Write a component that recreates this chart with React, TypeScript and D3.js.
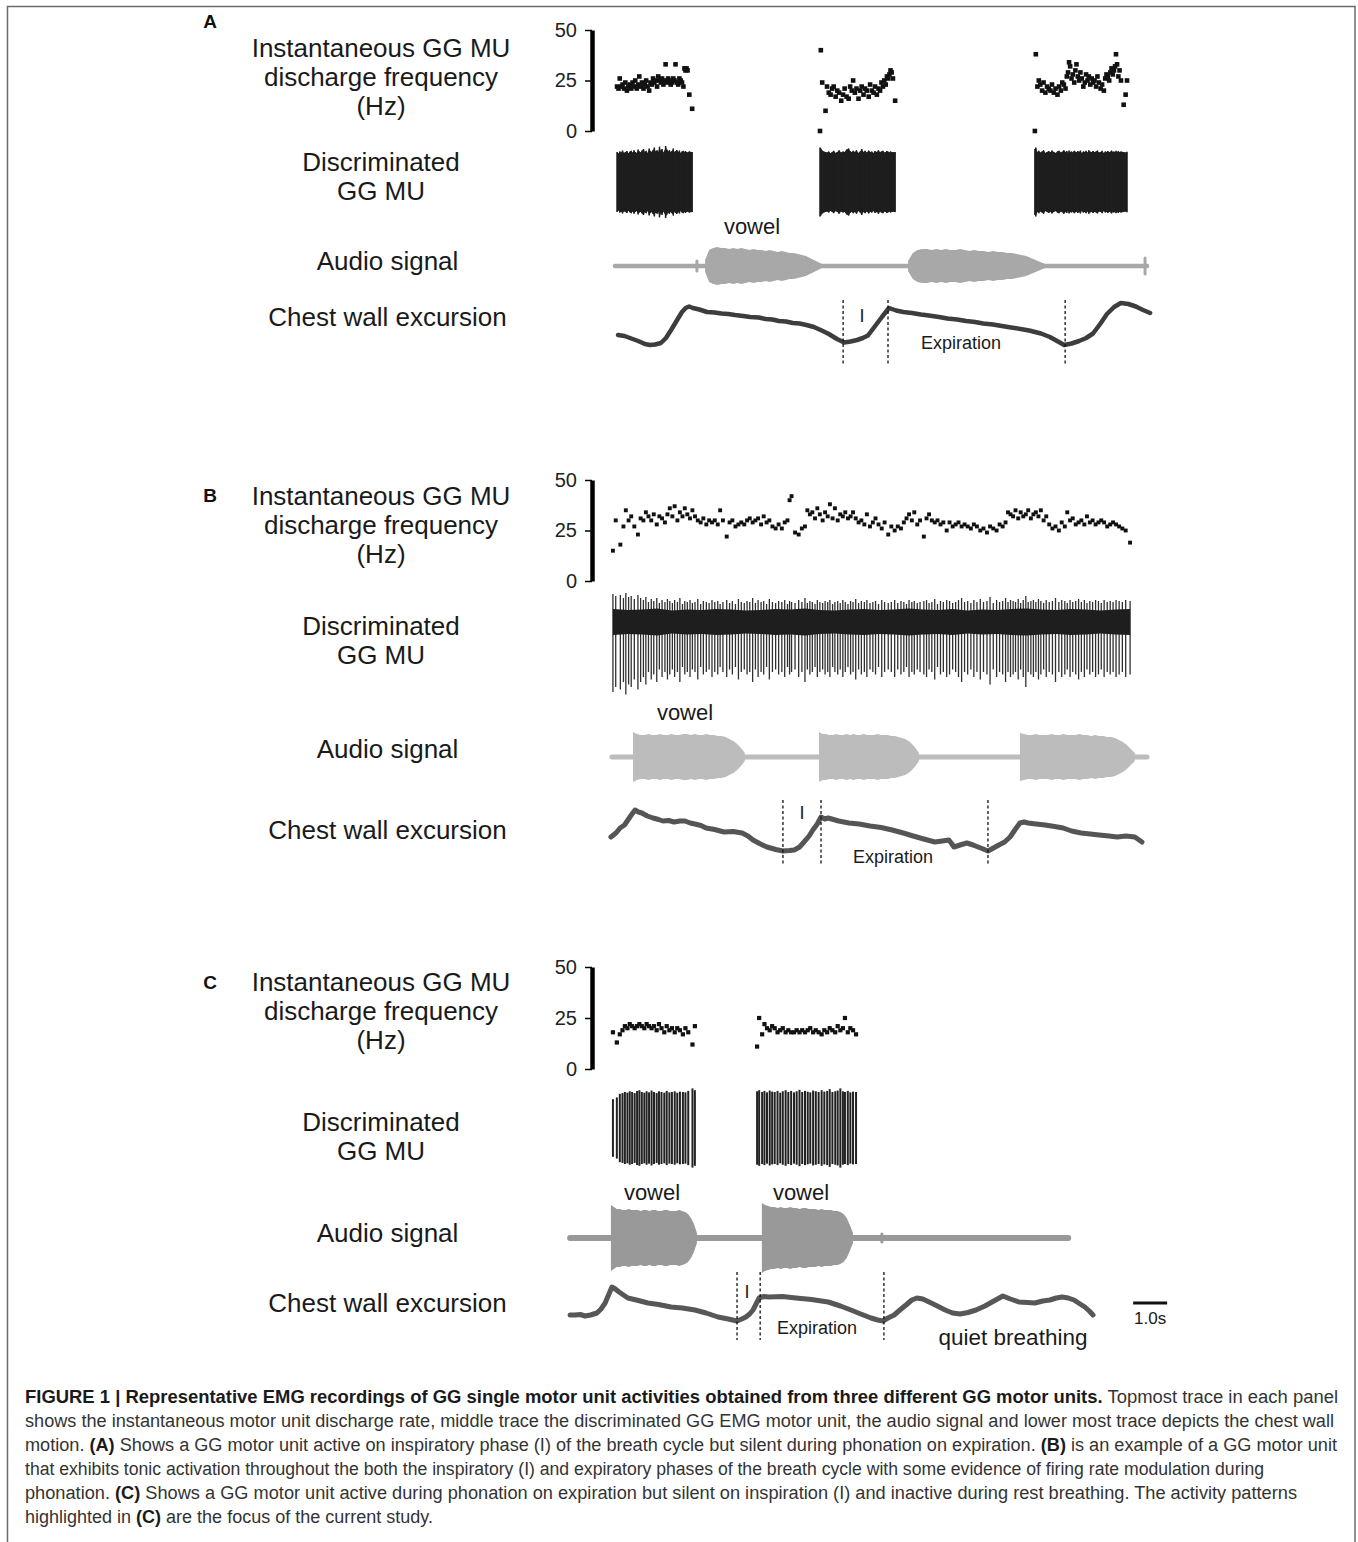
import React, { useRef, useEffect } from 'react';
import * as d3 from 'd3';

const FONT = "'Liberation Sans', Arial, Helvetica, sans-serif";

// ---------- Panel A ----------
// instantaneous discharge frequency (Hz), one array per burst
const aRate1 = [22, 21, 26, 22, 23, 21, 24, 20, 22, 23, 21, 24, 22, 25, 21, 23, 27, 22, 24, 21, 23, 25, 22, 20, 24, 23, 26, 24, 25, 22, 27, 25, 24, 26, 23, 25, 33, 24, 26, 25, 23, 24, 26, 25, 33, 24, 23, 26, 25, 24, 22, 31, 30, 31, 30, 18, 11];
const aRate2 = [0, 40, 24, 10, 22, 19, 18, 21, 22, 17, 20, 19, 15, 18, 21, 17, 16, 22, 20, 25, 19, 21, 16, 20, 22, 18, 21, 20, 17, 23, 20, 19, 22, 18, 21, 20, 24, 22, 25, 23, 27, 26, 28, 30, 29, 26, 15];
const aRate3 = [0, 38, 22, 25, 23, 20, 24, 19, 22, 21, 20, 23, 19, 21, 18, 22, 20, 24, 23, 21, 27, 29, 34, 32, 26, 28, 24, 30, 33, 27, 25, 29, 26, 22, 24, 28, 25, 27, 23, 26, 24, 25, 22, 27, 24, 21, 23, 20, 26, 28, 27, 25, 29, 31, 28, 30, 32, 38, 33, 27, 30, 25, 13, 18, 25];
// relative spike amplitude of each discharge
const aAmp1 = [1.0, 0.95, 1.02, 0.98, 1.05, 0.97, 1.0, 1.03, 0.96, 1.01, 1.04, 0.98, 1.06, 1.0, 0.97, 1.08, 1.02, 0.99, 1.05, 1.1, 1.0, 1.04, 0.97, 1.12, 1.03, 1.0, 1.07, 1.15, 1.02, 1.06, 1.0, 1.18, 1.04, 1.1, 0.98, 1.05, 1.2, 1.08, 1.02, 1.06, 1.0, 1.04, 1.12, 0.98, 1.03, 1.07, 1.0, 1.05, 0.97, 1.02, 1.04, 0.99, 1.03, 1.0, 0.98, 1.02, 1.0];
const aAmp2 = [1.15, 1.12, 1.05, 1.0, 0.98, 1.02, 0.96, 1.0, 1.04, 0.97, 1.0, 1.06, 0.98, 1.02, 1.0, 1.08, 1.12, 1.03, 0.99, 1.04, 1.0, 1.06, 0.97, 1.02, 1.1, 1.0, 1.04, 0.98, 1.05, 1.0, 1.02, 0.97, 1.03, 1.0, 1.06, 0.99, 1.02, 1.04, 0.98, 1.0, 1.03, 1.01, 0.98, 1.02, 1.0, 0.99, 1.0];
const aAmp3 = [1.1, 1.15, 1.0, 1.04, 0.98, 1.02, 1.06, 0.97, 1.0, 1.03, 0.99, 1.05, 1.0, 0.97, 1.02, 1.04, 0.98, 1.01, 1.06, 1.0, 1.03, 0.97, 1.05, 1.0, 1.02, 0.98, 1.04, 1.01, 0.99, 1.03, 1.0, 1.05, 0.97, 1.02, 1.0, 1.04, 0.98, 1.06, 1.01, 1.0, 1.03, 0.99, 1.02, 1.05, 0.98, 1.0, 1.04, 0.97, 1.02, 1.0, 1.03, 0.99, 1.01, 1.05, 1.0, 1.02, 0.98, 1.04, 1.0, 1.03, 0.99, 1.02, 1.0, 0.98, 1.01];
// burst windows (s)
const aBurstWin = [[1.53, 3.74], [7.5, 9.71], [13.82, 16.53]];
// audio: recording span, vowel windows, envelope half-amplitude (a.u.)
const aAudioSpan = [1.47, 17.12];
const aAudioWin = [[4.12, 7.56], [10.09, 14.12]];
const aAudioEnv1 = [6, 16, 18, 19, 18, 18, 17, 18, 17, 18, 17, 16, 17, 16, 16, 15, 16, 15, 14, 15, 14, 13, 13, 12, 11, 10, 8, 6, 4, 2];
const aAudioEnv2 = [5, 13, 16, 17, 17, 16, 17, 16, 17, 16, 16, 17, 16, 15, 16, 15, 15, 14, 15, 14, 14, 13, 13, 12, 11, 10, 8, 6, 4, 2];
const aBlipT = [3.88, 17.06];
const aBlipAmp = [5, 8];
// chest wall excursion [time s, a.u.]
const aChest = [[1.56, 15], [1.75, 14], [1.95, 11.5], [2.15, 9], [2.35, 6], [2.5, 5], [2.65, 5.5], [2.82, 7], [2.97, 12], [3.12, 20], [3.28, 29], [3.44, 38], [3.55, 42], [3.65, 43.5], [3.76, 42], [3.95, 40.5], [4.18, 38], [4.4, 37.5], [4.6, 36.5], [4.8, 36], [5.0, 35], [5.24, 34], [5.45, 33], [5.7, 32.5], [5.9, 31], [6.1, 30.5], [6.29, 29], [6.5, 28.5], [6.7, 27], [6.9, 26.5], [7.1, 25], [7.32, 23], [7.55, 19.5], [7.76, 16], [8.0, 11], [8.21, 7.5], [8.4, 8.5], [8.59, 10], [8.76, 12], [8.91, 14.5], [9.1, 23], [9.32, 33], [9.53, 42], [9.74, 39.5], [9.95, 38], [10.2, 37], [10.47, 35.5], [10.7, 34.5], [11.0, 33], [11.25, 31.5], [11.53, 30.5], [11.8, 29], [12.06, 28], [12.3, 26.5], [12.59, 25.5], [12.85, 24], [13.12, 22.5], [13.4, 21], [13.65, 19.5], [14.0, 16.5], [14.26, 13], [14.5, 8.5], [14.68, 5], [14.9, 6.5], [15.12, 9], [15.33, 12], [15.53, 16.5], [15.74, 26], [15.94, 36], [16.15, 43], [16.35, 47], [16.57, 46], [16.79, 43.5], [17.0, 40], [17.21, 37]];
const aPhaseT = [8.18, 9.5, 14.71];

// ---------- Panel B ----------
const bRate = [15, 30, 18, 27, 35, 30, 32, 27, 23, 31, 30, 34, 32, 30, 33, 28, 32, 31, 29, 33,
  36, 32, 37, 30, 34, 32, 36, 33, 31, 35, 32, 30, 29, 31, 28, 30, 29, 30, 28, 35,
  30, 22, 29, 30, 27, 28, 29, 28, 30, 31, 29, 30, 31, 28, 32, 29, 30, 27, 26, 28,
  26, 29, 30, 40, 42, 24, 23, 26, 27, 35, 33, 34, 31, 36, 33, 30, 34, 32, 38, 31,
  36, 30, 33, 32, 34, 31, 32, 34, 31, 29, 30, 28, 33, 27, 29, 31, 28, 26, 29, 23,
  27, 25, 27, 26, 29, 31, 33, 30, 34, 28, 30, 22, 31, 33, 30, 29, 30, 28, 29, 25,
  29, 27, 28, 29, 27, 28, 27, 26, 28, 27, 25, 26, 24, 27, 26, 25, 28, 27, 29, 34,
  33, 32, 35, 31, 34, 32, 33, 35, 31, 33, 34, 32, 35, 30, 32, 28, 26, 27, 25, 29,
  27, 34, 30, 31, 28, 29, 30, 28, 32, 29, 30, 28, 29, 30, 29, 27, 28, 29, 28, 27,
  26, 25, 19];
const bAmp = [1.4, 1.3, 1.35, 1.2, 1.45, 1.25, 1.3, 1.15, 1.35, 1.2,
  1.1, 1.25, 1.0, 1.15, 1.05, 1.2, 0.95, 1.1, 1.0, 1.15,
  1.05, 0.95, 1.1, 1.0, 1.2, 0.9, 1.05, 1.0, 1.1, 0.95,
  1.0, 1.15, 0.9, 1.05, 1.0, 0.95, 1.1, 1.0, 1.05, 0.9,
  1.0, 1.1, 0.95, 1.05, 0.9, 1.15, 1.0, 0.95, 1.05, 1.0,
  1.2, 0.95, 1.1, 1.0, 1.05, 0.9, 1.15, 1.0, 0.95, 1.05,
  1.0, 1.1, 0.9, 1.05, 1.0, 0.95, 1.1, 1.0, 1.2, 0.95,
  1.05, 1.0, 0.9, 1.1, 1.0, 0.95, 1.05, 1.0, 1.1, 0.9,
  1.0, 1.05, 0.95, 1.1, 1.0, 0.9, 1.05, 1.0, 1.15, 0.95,
  1.05, 1.0, 1.1, 0.95, 1.0, 1.05, 0.9, 1.1, 1.0, 0.95,
  1.0, 1.1, 0.95, 1.05, 1.0, 0.9, 1.1, 1.0, 1.05, 0.95,
  1.0, 1.05, 1.1, 0.95, 1.0, 1.15, 0.9, 1.05, 1.0, 1.1,
  1.05, 0.95, 1.0, 1.1, 1.2, 1.0, 1.05, 0.95, 1.1, 1.0,
  1.15, 1.0, 1.05, 1.25, 0.95, 1.1, 1.0, 1.05, 1.2, 1.0,
  1.1, 1.05, 1.0, 1.15, 0.95, 1.1, 1.3, 1.0, 1.05, 1.1,
  1.0, 1.15, 1.05, 0.95, 1.1, 1.0, 1.05, 1.2, 1.0, 1.1,
  1.05, 0.95, 1.1, 1.0, 1.05, 1.15, 1.0, 1.1, 0.95, 1.05,
  1.0, 1.1, 1.05, 0.95, 1.1, 1.0, 1.05, 1.0, 1.1, 1.05,
  1.0, 1.1, 1.05];
const bBurstWin = [[1.41, 16.62]];
// half-width of the dense background band (a.u.)
const bBand = [0.26, 0.24, 0.25, 0.27, 0.23, 0.25, 0.24, 0.26, 0.25, 0.23, 0.24, 0.26, 0.25, 0.27, 0.24, 0.23, 0.25, 0.26, 0.24, 0.25, 0.27, 0.25, 0.24, 0.26, 0.23, 0.25, 0.24, 0.26, 0.27, 0.25, 0.24, 0.26, 0.25, 0.23, 0.25, 0.26];
const bAudioSpan = [1.38, 17.12];
const bAudioWin = [[2.0, 5.29], [7.47, 10.41], [13.38, 16.76]];
const bAudioEnv1 = [25, 23, 22, 22, 23, 22, 22, 23, 22, 22, 23, 22, 22, 23, 23, 22, 23, 22, 22, 23, 22, 22, 21, 21, 20, 18, 16, 13, 9, 4];
const bAudioEnv2 = [25, 23, 23, 22, 22, 23, 22, 22, 23, 22, 23, 22, 22, 23, 22, 22, 22, 23, 22, 22, 22, 21, 21, 20, 19, 18, 16, 13, 9, 4];
const bAudioEnv3 = [24, 23, 22, 22, 23, 22, 22, 22, 23, 22, 22, 23, 22, 22, 22, 23, 22, 22, 21, 22, 21, 21, 20, 20, 19, 17, 15, 12, 8, 4];
const bChest = [[1.35, 23], [1.5, 27], [1.62, 32], [1.75, 35], [1.85, 40], [1.95, 45], [2.06, 50], [2.16, 48], [2.26, 47], [2.42, 44], [2.59, 42], [2.75, 40.5], [2.88, 39], [3.05, 39.5], [3.21, 38], [3.38, 39], [3.53, 39], [3.68, 37], [3.82, 36], [4.0, 34.5], [4.15, 32], [4.4, 30.5], [4.68, 28], [4.95, 28.5], [5.21, 27], [5.38, 24], [5.53, 20], [5.75, 16], [5.94, 13], [6.2, 10.5], [6.41, 9], [6.6, 9.5], [6.74, 10], [6.9, 13], [7.03, 18], [7.18, 24], [7.29, 30], [7.42, 36], [7.53, 43], [7.64, 41], [7.74, 42], [8.05, 39], [8.35, 37], [8.65, 36], [8.97, 34], [9.3, 32.5], [9.62, 30], [9.95, 27], [10.24, 24], [10.55, 21], [10.88, 18], [11.1, 19], [11.29, 20], [11.38, 16], [11.44, 13], [11.62, 15], [11.82, 17], [12.0, 15], [12.15, 13], [12.3, 11], [12.44, 9], [12.6, 12], [12.76, 15], [12.93, 18], [13.09, 23], [13.25, 31], [13.38, 37], [13.5, 38], [13.62, 37], [13.85, 36], [14.12, 35], [14.4, 33.5], [14.65, 32], [14.9, 29], [15.18, 27], [15.45, 26], [15.71, 25], [16.0, 24], [16.24, 23], [16.5, 24], [16.76, 23], [16.97, 18]];
const bPhaseT = [6.41, 7.53, 12.44];

// ---------- Panel C ----------
const cRate1 = [18, 13, 17, 19, 21, 20, 22, 21, 20, 21, 22, 21, 20, 22, 21, 20, 21, 19, 22, 20, 18, 21, 19, 20, 18, 20, 19, 17, 20, 18, 12, 21];
const cRate2 = [11, 25, 17, 22, 20, 19, 21, 20, 18, 19, 20, 18, 19, 18, 18, 19, 18, 19, 18, 19, 20, 18, 19, 18, 17, 19, 18, 20, 19, 18, 21, 19, 20, 25, 18, 20, 19, 17];
const cAmp1 = [0.8, 0.85, 0.95, 0.97, 1.0, 0.98, 1.02, 1.0, 0.97, 1.03, 1.05, 1.0, 0.98, 1.02, 0.99, 1.04, 1.0, 0.97, 1.02, 1.0, 0.98, 1.03, 0.99, 1.0, 1.02, 0.98, 1.01, 1.0, 0.99, 1.03, 1.1, 1.05];
const cAmp2 = [1.02, 1.05, 1.0, 1.03, 0.99, 1.04, 1.01, 1.0, 1.03, 0.98, 1.02, 1.05, 1.0, 1.03, 0.99, 1.02, 1.06, 1.0, 1.03, 1.01, 0.99, 1.04, 1.02, 1.0, 1.05, 1.01, 1.03, 1.08, 1.0, 1.02, 1.04, 1.1, 1.02, 1.0, 1.03, 0.99, 1.01, 1.0];
const cBurstWin = [[1.41, 3.82], [5.65, 8.56]];
const cAudioSpan = [0.15, 14.8];
const cAudioWin = [[1.35, 3.88], [5.79, 8.47]];
const cAudioEnv1 = [33, 31, 29, 29, 28, 28, 29, 28, 28, 28, 27, 28, 28, 27, 28, 28, 27, 27, 28, 28, 27, 27, 27, 28, 27, 26, 24, 20, 14, 5];
const cAudioEnv2 = [35, 33, 32, 31, 31, 30, 31, 30, 30, 31, 30, 30, 29, 30, 30, 29, 29, 29, 28, 29, 28, 28, 28, 27, 27, 26, 24, 20, 13, 5];
const cBlipT = [9.32];
const cBlipAmp = [4];
const cChest = [[0.15, 10], [0.3, 10], [0.45, 10.5], [0.59, 9], [0.75, 10], [0.94, 12], [1.06, 16], [1.18, 22], [1.28, 30], [1.38, 38], [1.48, 36], [1.59, 33], [1.72, 30], [1.85, 27], [2.1, 25], [2.44, 22], [2.75, 20.5], [3.12, 18], [3.45, 17], [3.82, 15], [4.15, 12], [4.5, 8], [4.8, 6], [5.06, 4], [5.2, 6], [5.32, 8], [5.43, 11], [5.53, 15], [5.62, 21], [5.71, 27], [5.85, 28.5], [6.0, 28], [6.4, 28.5], [6.79, 27], [7.25, 25.5], [7.74, 23], [8.1, 19], [8.41, 15], [8.7, 11], [9.0, 7], [9.2, 5], [9.35, 4], [9.5, 7], [9.68, 10], [9.85, 15], [10.03, 20], [10.2, 25], [10.35, 27], [10.52, 26], [10.71, 23], [10.95, 19], [11.18, 15], [11.4, 12], [11.62, 11], [11.85, 12.5], [12.09, 15], [12.35, 19], [12.56, 23], [12.72, 26], [12.88, 29], [13.1, 26], [13.35, 23], [13.6, 22.5], [13.82, 22], [14.05, 24], [14.26, 25], [14.45, 27], [14.62, 28], [14.8, 27], [14.97, 25], [15.15, 21], [15.29, 18], [15.42, 14], [15.53, 10]];
const cPhaseT = [5.06, 5.74, 9.38];
const scaleBarStart = 16.71; // s
const scaleBarLen = 1.0; // s

// ---------- text ----------
const rowLabels = [['Instantaneous GG MU', 'discharge frequency', '(Hz)'], ['Discriminated', 'GG MU'], ['Audio signal'], ['Chest wall excursion']];
const rateTicks = [0, 25, 50];

const captionLines = [
  [['FIGURE 1 | Representative EMG recordings of GG single motor unit activities obtained from three different GG motor units.', true], [' Topmost trace in each panel', false]],
  [['shows the instantaneous motor unit discharge rate, middle trace the discriminated GG EMG motor unit, the audio signal and lower most trace depicts the chest wall', false]],
  [['motion. ', false], ['(A)', true], [' Shows a GG motor unit active on inspiratory phase (I) of the breath cycle but silent during phonation on expiration. ', false], ['(B)', true], [' is an example of a GG motor unit', false]],
  [['that exhibits tonic activation throughout the both the inspiratory (I) and expiratory phases of the breath cycle with some evidence of firing rate modulation during', false]],
  [['phonation. ', false], ['(C)', true], [' Shows a GG motor unit active during phonation on expiration but silent on inspiration (I) and inactive during rest breathing. The activity patterns', false]],
  [['highlighted in ', false], ['(C)', true], [' are the focus of the current study.', false]],
];
// right end of each caption line in the reference
const captionEnds = [1338, 1334, 1337, 1264, 1297, 0];

const panels = [
  {
    letter: 'A', letterY: 28, labelY: [[57, 86, 115], [171, 200], [270], [326]],
    rateRange: [131, 30], rates: [aRate1, aRate2, aRate3], amps: [aAmp1, aAmp2, aAmp3], win: aBurstWin,
    spikeC: 182, spikeU: 30, up: 1, down: 1, spikeW: 1.5, spikeColor: '#1e1e1e', solid: true, dot: 4.6, band: null,
    audioC: 266, audioColor: '#a8a8a8', audioW: 4.5, audioSpan: aAudioSpan, audioWin: aAudioWin, audioEnv: [aAudioEnv1, aAudioEnv2], blipT: aBlipT, blipAmp: aBlipAmp,
    chestBase: 350, chestColor: '#3d3d3d', chestW: 4.5, chest: aChest, phaseT: aPhaseT, dashY: [300, 366],
    notes: [['vowel', 752, 234, 22], ['I', 862, 322, 18], ['Expiration', 961, 349, 18]],
  },
  {
    letter: 'B', letterY: 502, labelY: [[505, 534, 563], [635, 664], [758], [839]],
    rateRange: [581, 480], rates: [bRate], amps: [bAmp], win: bBurstWin,
    spikeC: 622, spikeU: 50, up: 0.4, down: 1, spikeW: 1.3, spikeColor: '#303030', solid: false, dot: 3.9, band: bBand,
    audioC: 757, audioColor: '#bcbcbc', audioW: 5, audioSpan: bAudioSpan, audioWin: bAudioWin, audioEnv: [bAudioEnv1, bAudioEnv2, bAudioEnv3], blipT: [], blipAmp: [],
    chestBase: 860, chestColor: '#555555', chestW: 5, chest: bChest, phaseT: bPhaseT, dashY: [800, 866],
    notes: [['vowel', 685, 720, 22], ['I', 802, 819, 18], ['Expiration', 893, 863, 18]],
  },
  {
    letter: 'C', letterY: 989, labelY: [[991, 1020, 1049], [1131, 1160], [1242], [1312]],
    rateRange: [1069, 967], rates: [cRate1, cRate2], amps: [cAmp1, cAmp2], win: cBurstWin,
    spikeC: 1128, spikeU: 36, up: 1, down: 1, spikeW: 2, spikeColor: '#222222', solid: false, dot: 4.2, band: null,
    audioC: 1238, audioColor: '#999999', audioW: 6, audioSpan: cAudioSpan, audioWin: cAudioWin, audioEnv: [cAudioEnv1, cAudioEnv2], blipT: cBlipT, blipAmp: cBlipAmp,
    chestBase: 1325, chestColor: '#575757', chestW: 5, chest: cChest, phaseT: cPhaseT, dashY: [1272, 1340],
    notes: [['vowel', 652, 1200, 22], ['vowel', 801, 1200, 22], ['I', 747, 1298, 18], ['Expiration', 817, 1334, 18], ['quiet breathing', 1013, 1345, 22.5]],
  },
];

// spike times from the instantaneous rate (ISI = 1/rate), fitted to the burst window
const spikeTimes = (rates: number[], win: number[]) => {
  const cum = [0];
  for (let i = 1; i < rates.length; i++) cum.push(cum[i - 1] + 1 / Math.max(rates[i], 1));
  const s = d3.scaleLinear().domain([0, cum[cum.length - 1]]).range(win);
  return cum.map((c) => s(c));
};

const App = () => {
  const svgRef = useRef(null);

  useEffect(() => {
    const svg = d3.select(svgRef.current);
    svg.selectAll('*').remove();

    const x = d3.scaleLinear().domain([0, 17.5]).range([565, 1160]);

    svg.append('rect')
      .attr('x', 7.5).attr('y', 6.5).attr('width', 1347.5).attr('height', 1600)
      .attr('fill', 'none').attr('stroke', '#6b6b6b').attr('stroke-width', 1.5);

    panels.forEach((p) => {
      const g = svg.append('g').attr('font-family', FONT);

      g.append('text')
        .attr('x', 210).attr('y', p.letterY).attr('text-anchor', 'middle')
        .attr('font-size', 19).attr('font-weight', 'bold').attr('fill', '#111')
        .text(p.letter);

      rowLabels.forEach((lines, r) => {
        lines.forEach((txt, k) => {
          g.append('text')
            .attr('x', r >= 2 ? 387.5 : 381).attr('y', p.labelY[r][k])
            .attr('text-anchor', 'middle').attr('font-size', 26).attr('fill', '#1a1a1a')
            .text(txt);
        });
      });

      // discharge frequency axis
      const yR = d3.scaleLinear().domain([0, 50]).range(p.rateRange);
      const ax = g.append('g')
        .attr('transform', 'translate(592,0)')
        .call(d3.axisLeft(yR).tickValues(rateTicks).tickSize(7).tickSizeOuter(0).tickPadding(8));
      ax.select('.domain').attr('stroke', '#000').attr('stroke-width', 4.5);
      ax.selectAll('.tick line').attr('stroke', '#000').attr('stroke-width', 1.5);
      ax.selectAll('.tick text').attr('font-size', 20).attr('font-family', FONT).attr('fill', '#222');

      const yS = d3.scaleLinear().domain([-1, 1]).range([p.spikeC + p.spikeU, p.spikeC - p.spikeU]);

      p.rates.forEach((rates, k) => {
        const ts = spikeTimes(rates, p.win[k]);
        const amp = p.amps[k];

        if (p.solid) {
          // discharges so close together that they merge into one dark block
          g.append('path')
            .datum(ts)
            .attr('fill', p.spikeColor)
            .attr('d', d3.area()
              .x((t) => x(t))
              .y0((t, i) => yS(-p.down * (amp[i] ?? 1)))
              .y1((t, i) => yS(p.up * (amp[i] ?? 1))));
        }

        g.append('g').selectAll('line').data(ts).join('line')
          .attr('x1', (t) => x(t)).attr('x2', (t) => x(t))
          .attr('y1', (t, i) => yS(p.up * (amp[i] ?? 1)))
          .attr('y2', (t, i) => yS(-p.down * (amp[i] ?? 1)))
          .attr('stroke', p.spikeColor).attr('stroke-width', p.spikeW);

        if (p.band) {
          const tb = d3.scaleLinear().domain([0, p.band.length - 1]).range(p.win[k]);
          g.append('path')
            .datum(p.band)
            .attr('fill', '#1e1e1e')
            .attr('d', d3.area().x((d, i) => x(tb(i))).y0((d) => yS(-d)).y1((d) => yS(d)));
        }

        g.append('g').selectAll('rect').data(ts).join('rect')
          .attr('x', (t) => x(t) - p.dot / 2)
          .attr('y', (t, i) => yR(rates[i]) - p.dot / 2)
          .attr('width', p.dot).attr('height', p.dot)
          .attr('fill', '#111');
      });

      // audio signal
      const yA = d3.scaleLinear().domain([-40, 40]).range([p.audioC + 40, p.audioC - 40]);
      g.append('line')
        .attr('x1', x(p.audioSpan[0])).attr('x2', x(p.audioSpan[1]))
        .attr('y1', yA(0)).attr('y2', yA(0))
        .attr('stroke', p.audioColor).attr('stroke-width', p.audioW).attr('stroke-linecap', 'round');
      p.audioEnv.forEach((env, k) => {
        const te = d3.scaleLinear().domain([0, env.length - 1]).range(p.audioWin[k]);
        g.append('path')
          .datum(env)
          .attr('fill', p.audioColor)
          .attr('d', d3.area().x((d, i) => x(te(i))).y0((d) => yA(-d)).y1((d) => yA(d)));
      });
      p.blipT.forEach((t, i) => {
        g.append('line')
          .attr('x1', x(t)).attr('x2', x(t))
          .attr('y1', yA(-p.blipAmp[i])).attr('y2', yA(p.blipAmp[i]))
          .attr('stroke', p.audioColor).attr('stroke-width', 3).attr('stroke-linecap', 'round');
      });

      // chest wall excursion
      const yC = d3.scaleLinear().domain([0, 50]).range([p.chestBase, p.chestBase - 50]);
      g.append('path')
        .datum(p.chest)
        .attr('fill', 'none').attr('stroke', p.chestColor).attr('stroke-width', p.chestW)
        .attr('stroke-linejoin', 'round').attr('stroke-linecap', 'round')
        .attr('d', d3.line().x((d) => x(d[0])).y((d) => yC(d[1])));

      g.append('g').selectAll('line').data(p.phaseT).join('line')
        .attr('x1', (t) => x(t)).attr('x2', (t) => x(t))
        .attr('y1', p.dashY[0]).attr('y2', p.dashY[1])
        .attr('stroke', '#111').attr('stroke-width', 1.3).attr('stroke-dasharray', '3,2.5');

      p.notes.forEach(([txt, nx, ny, fs]) => {
        g.append('text')
          .attr('x', nx).attr('y', ny).attr('text-anchor', 'middle')
          .attr('font-size', fs).attr('fill', '#1a1a1a')
          .text(txt);
      });
    });

    // time scale bar
    svg.append('line')
      .attr('x1', x(scaleBarStart)).attr('x2', x(scaleBarStart + scaleBarLen))
      .attr('y1', 1303).attr('y2', 1303)
      .attr('stroke', '#111').attr('stroke-width', 3);
    svg.append('text')
      .attr('x', (x(scaleBarStart) + x(scaleBarStart + scaleBarLen)) / 2).attr('y', 1324)
      .attr('text-anchor', 'middle').attr('font-family', FONT).attr('font-size', 17).attr('fill', '#1a1a1a')
      .text(scaleBarLen.toFixed(1) + 's');

    // caption
    const cap = svg.append('g').attr('font-family', FONT).attr('font-size', 18);
    captionLines.forEach((segs, i) => {
      const t = cap.append('text').attr('x', 25).attr('y', 1403 + i * 24);
      if (captionEnds[i]) t.attr('textLength', captionEnds[i] - 25).attr('lengthAdjust', 'spacingAndGlyphs');
      segs.forEach(([s, bold]) => {
        t.append('tspan')
          .attr('font-weight', bold ? 'bold' : 'normal')
          .attr('fill', bold ? '#1a1a1a' : '#333')
          .text(s);
      });
    });
  }, []);

  return (
    <svg
      ref={svgRef}
      width={1358}
      height={1542}
      style={{ position: 'absolute', left: 0, top: 0, background: '#fff' }}
    />
  );
};

export default App;
